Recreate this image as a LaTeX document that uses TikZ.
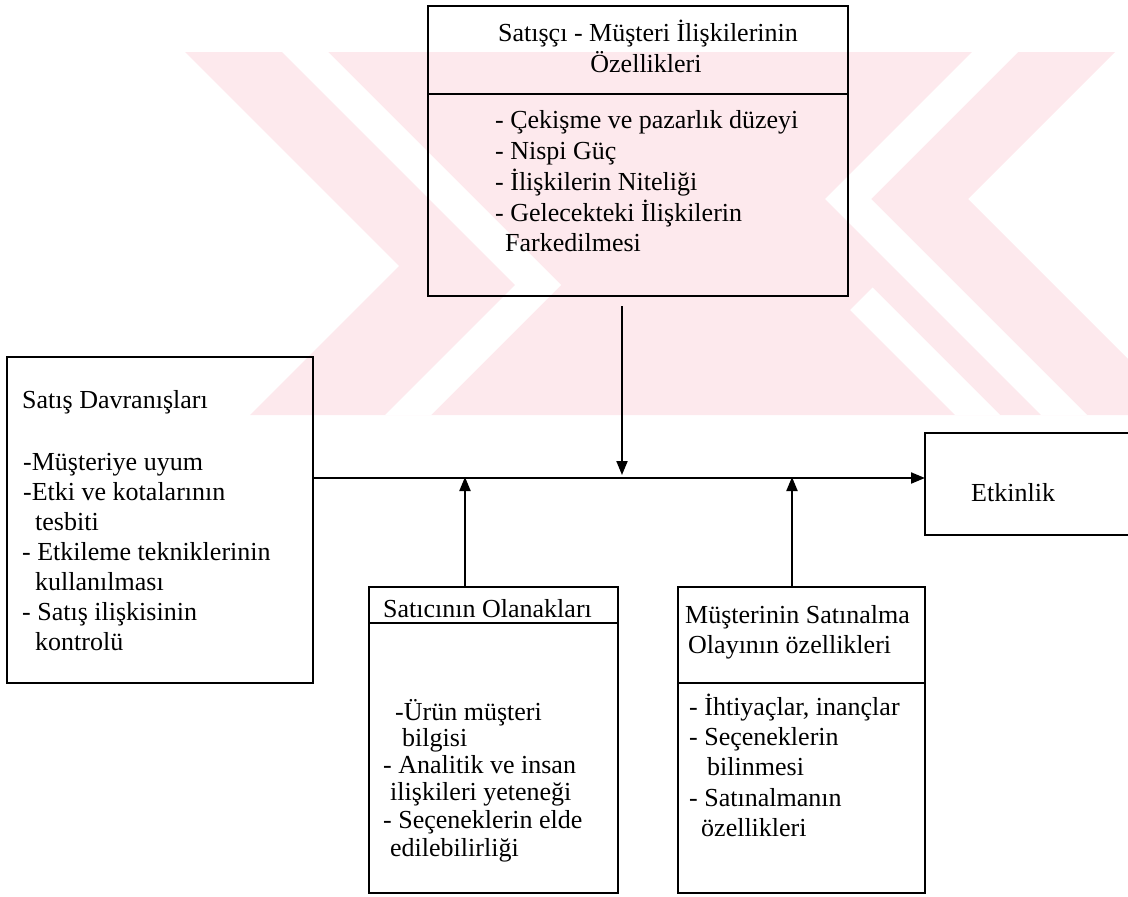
\documentclass[tikz,border=0pt]{standalone}
\usepackage{fontspec}
\setmainfont{Liberation Serif}
\usetikzlibrary{arrows.meta}
\definecolor{wmpink}{RGB}{253,233,237}
\begin{document}
\begin{tikzpicture}[x=1pt,y=-1pt,
  boxline/.style={line width=2.5pt,line cap=rect},
  frame/.style={boxline,draw,rectangle,inner sep=0pt,outer sep=0pt,anchor=north west},
  conn/.style={line width=2pt},
  tip/.style={-{Triangle[length=14pt,width=11pt]}},
  txt/.style={font=\fontsize{26}{30}\selectfont,inner sep=0pt,anchor=base west},
  ctxt/.style={txt,anchor=base}]
\useasboundingbox (0,0) rectangle (1128,897);

% background emblem
\begin{scope}
  \clip (0,52) rectangle (1128,415);
  \fill[wmpink] (185,52) -- (1115,52) -- (968,199) -- (1184,415) -- (250,415) -- (399,266) -- cycle;
  \fill[white] (282,52) -- (328,52) -- (561,285) -- (431,415) -- (385,415) -- (515,285) -- cycle;
  \fill[white] (972,52) -- (1018,52) -- (871,199) -- (1087,415) -- (1041,415) -- (825,199) -- cycle;
  \fill[white] (850,310) -- (872.5,287.5) -- (1000,415) -- (955,415) -- cycle;
\end{scope}

% boxes
\node[frame,minimum width=420pt,minimum height=290pt] (top) at (428,6) {};
\node[frame,minimum width=306pt,minimum height=326pt] (beh) at (7,357) {};
\node[frame,minimum width=210pt,minimum height=102pt] (etk) at (925,433) {};
\node[frame,minimum width=249pt,minimum height=306pt] (sat) at (369,587) {};
\node[frame,minimum width=247pt,minimum height=306pt] (mus) at (678,587) {};

% header dividers
\coordinate (topdiv) at (0,94);
\coordinate (satdiv) at (0,623);
\coordinate (musdiv) at (0,683);
\draw[boxline] (top.west |- topdiv) -- (top.east |- topdiv);
\draw[boxline] (sat.west |- satdiv) -- (sat.east |- satdiv);
\draw[boxline] (mus.west |- musdiv) -- (mus.east |- musdiv);

% junctions on the main line
\coordinate (jdown) at (622,478);
\coordinate (jup1) at (465,478);
\coordinate (jup2) at (792,478);

% connectors
\draw[conn,tip] (beh.east |- jdown) -- (etk.west |- jdown);
\draw[conn,tip,shorten <=10pt,shorten >=3pt] (top.south -| jdown) -- (jdown);
\draw[conn,tip,shorten >=-1pt] (sat.north -| jup1) -- (jup1);
\draw[conn,tip,shorten >=-1pt] (mus.north -| jup2) -- (jup2);

% top box
\node[ctxt] (t1) at (648,41) {Satışçı - Müşteri İlişkilerinin};
\node[ctxt] (t2) at (646,72) {Özellikleri};
\node[txt] (t3) at (495,128) {- Çekişme ve pazarlık düzeyi};
\node[txt] (t4) at (495,159) {- Nispi Güç};
\node[txt] (t5) at (495,190) {- İlişkilerin Niteliği};
\node[txt] (t6) at (495,221) {- Gelecekteki İlişkilerin};
\node[txt] (t7) at (505,251) {Farkedilmesi};

% left box
\node[txt] (b1) at (22,408) {Satış Davranışları};
\node[txt] (b2) at (23,470) {-Müşteriye uyum};
\node[txt] (b3) at (23,500) {-Etki ve kotalarının};
\node[txt] (b4) at (35,530) {tesbiti};
\node[txt] (b5) at (22,560) {- Etkileme tekniklerinin};
\node[txt] (b6) at (35,590) {kullanılması};
\node[txt] (b7) at (22,620) {- Satış ilişkisinin};
\node[txt] (b8) at (35,650) {kontrolü};

% result box
\node[txt] (e1) at (971,501) {Etkinlik};

% seller box
\node[txt] (s1) at (383,617) {Satıcının Olanakları};
\node[txt] (s2) at (395,720) {-Ürün müşteri};
\node[txt] (s3) at (402,746) {bilgisi};
\node[txt] (s4) at (383,773) {- Analitik ve insan};
\node[txt] (s5) at (390,800) {ilişkileri yeteneği};
\node[txt] (s6) at (383,828) {- Seçeneklerin elde};
\node[txt] (s7) at (390,856) {edilebilirliği};

% buyer box
\node[txt] (m1) at (685,623) {Müşterinin Satınalma};
\node[txt] (m2) at (688,653) {Olayının özellikleri};
\node[txt] (m3) at (689,715) {- İhtiyaçlar, inançlar};
\node[txt] (m4) at (689,745) {- Seçeneklerin};
\node[txt] (m5) at (707,775) {bilinmesi};
\node[txt] (m6) at (689,806) {- Satınalmanın};
\node[txt] (m7) at (701,836) {özellikleri};
\end{tikzpicture}
\end{document}
